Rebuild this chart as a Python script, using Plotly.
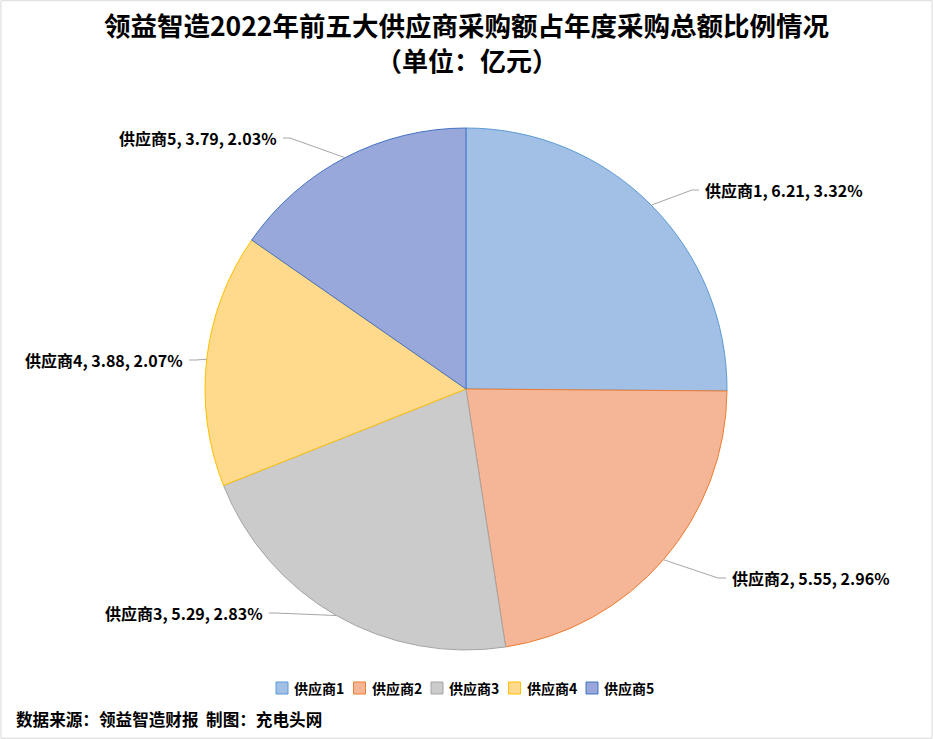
import math
import plotly.graph_objects as go

W, H = 933, 739

suppliers = ["供应商1", "供应商2", "供应商3", "供应商4", "供应商5"]
amounts = [6.21, 5.55, 5.29, 3.88, 3.79]            # 采购额（亿元）
share_pct = ["3.32%", "2.96%", "2.83%", "2.07%", "2.03%"]  # 占年度采购总额比例

fill_colors = ["#A2C0E6", "#F5B597", "#CBCBCB", "#FFD98C", "#98A8DB"]
edge_colors = ["#5B9BD5", "#ED7D31", "#A5A5A5", "#FFC000", "#4472C4"]

FONT = "Noto Sans CJK SC"

# pie geometry in pixels
CX, CY, R = 466, 389, 261

# label placement: side, text anchor (px), elbow x (px)
label_pos = [
    ("left", 703, 190, 692),
    ("left", 730, 578, 718),
    ("right", 265, 613, 275),
    ("right", 185, 360, 196),
    ("right", 279, 138, 290),
]

# legend row (px)
LEG_X0, LEG_STEP, LEG_Y, LEG_BOX = 276, 77.5, 688, 12


def px(x):
    return x / W


def py(y):
    return 1 - y / H


fig = go.Figure()
fig.add_trace(go.Pie(
    labels=suppliers, values=amounts,
    sort=False, direction="clockwise", rotation=0,
    marker=dict(colors=fill_colors, line=dict(color=edge_colors, width=1)),
    textinfo="none", hoverinfo="skip", showlegend=False,
    domain=dict(x=[px(CX - R), px(CX + R)], y=[py(CY + R), py(CY - R)]),
))

# data labels with leader lines
total = sum(amounts)
cum = 0
shapes = []
annotations = []
for name, val, pct, (anchor, tx, ty, ex) in zip(suppliers, amounts, share_pct, label_pos):
    mid = (cum + val / 2) / total * 2 * math.pi
    cum += val
    sx = CX + R * math.sin(mid)
    sy = CY - R * math.cos(mid)
    end_x = tx - 4 if anchor == "left" else tx + 4
    shapes.append(dict(
        type="path", xref="paper", yref="paper",
        path=f"M {px(sx)},{py(sy)} L {px(ex)},{py(ty)} L {px(end_x)},{py(ty)}",
        line=dict(color="#A6A6A6", width=1),
    ))
    annotations.append(dict(
        text=f"<b>{name}, {val:.2f}, {pct}</b>",
        x=px(tx), y=py(ty), xref="paper", yref="paper",
        xanchor=anchor, yanchor="middle", showarrow=False,
        font=dict(family=FONT, size=16, color="#000000"),
    ))

# legend (Excel style: small square + bold name)
for i, (name, fc, lc) in enumerate(zip(suppliers, fill_colors, edge_colors)):
    bx = LEG_X0 + i * LEG_STEP
    shapes.append(dict(
        type="rect", xref="paper", yref="paper",
        x0=px(bx), x1=px(bx + LEG_BOX),
        y0=py(LEG_Y + LEG_BOX / 2), y1=py(LEG_Y - LEG_BOX / 2),
        fillcolor=fc, line=dict(color=lc, width=1),
    ))
    annotations.append(dict(
        text=f"<b>{name}</b>",
        x=px(bx + LEG_BOX + 4), y=py(LEG_Y), xref="paper", yref="paper",
        xanchor="left", yanchor="middle", showarrow=False,
        font=dict(family=FONT, size=14, color="#000000"),
    ))

annotations.append(dict(
    text="<b>数据来源：领益智造财报  制图：充电头网</b>",
    x=px(14), y=py(719), xref="paper", yref="paper",
    xanchor="left", yanchor="middle", showarrow=False,
    font=dict(family=FONT, size=16.6, color="#000000"),
))
annotations.append(dict(
    text="<b>（单位：亿元）</b>",
    x=0.5, y=py(59), xref="paper", yref="paper",
    xanchor="center", yanchor="middle", showarrow=False,
    font=dict(family=FONT, size=26, color="#000000"),
))

# outer chart border
shapes.append(dict(
    type="rect", xref="paper", yref="paper", x0=0.001, y0=0.001, x1=0.999, y1=0.999,
    line=dict(color="#D9D9D9", width=1),
))

fig.update_layout(
    title=dict(
        text="<b>领益智造2022年前五大供应商采购额占年度采购总额比例情况</b>",
        x=0.5, xanchor="center", y=py(27), yref="container", yanchor="middle",
        font=dict(family=FONT, size=26.5, color="#000000"),
    ),
    width=W, height=H,
    margin=dict(l=0, r=0, t=0, b=0),
    paper_bgcolor="white", plot_bgcolor="white",
    showlegend=False,
    shapes=shapes,
    annotations=annotations,
)

fig.write_html("out.html", config={"displayModeBar": False},
               post_script="document.body.style.margin='0';")
